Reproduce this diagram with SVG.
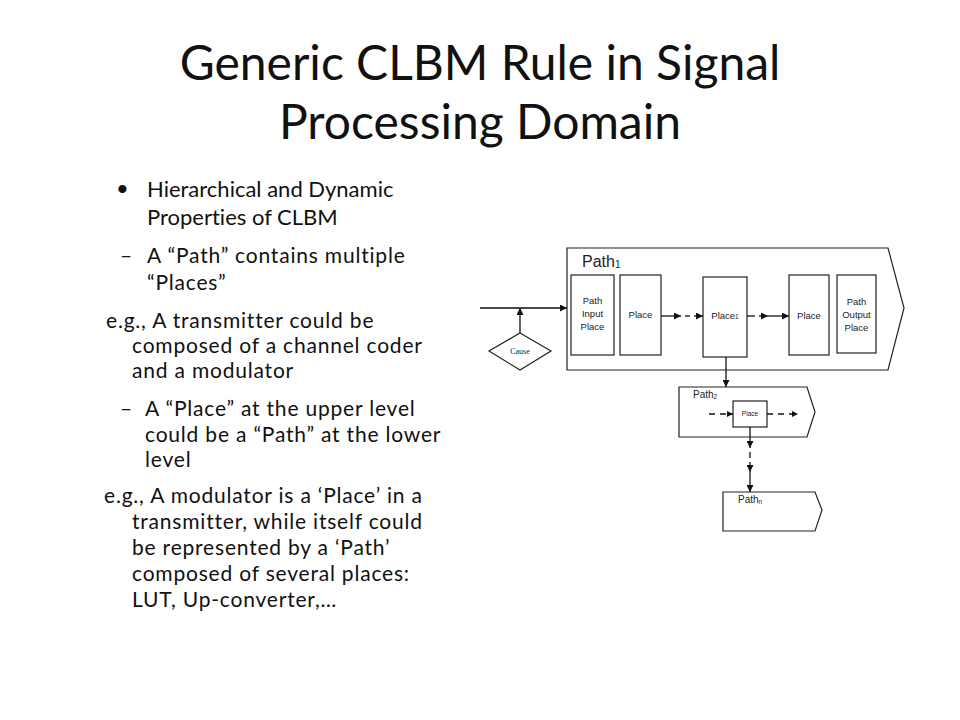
<svg xmlns="http://www.w3.org/2000/svg" width="960" height="720" viewBox="0 0 960 720">
<defs>
<marker id="ah" viewBox="0 0 10 10" refX="10" refY="5" markerWidth="7" markerHeight="7" markerUnits="userSpaceOnUse" orient="auto"><path d="M0,0 L10,5 L0,10 z" fill="#111"/></marker>
<marker id="ahs" viewBox="0 0 10 10" refX="10" refY="5" markerWidth="6" markerHeight="6" markerUnits="userSpaceOnUse" orient="auto"><path d="M0,0 L10,5 L0,10 z" fill="#111"/></marker>
</defs>
<style>
text{font-variant-ligatures:none;font-feature-settings:"liga" 0,"clig" 0}
.title{font-family:Lato,"Liberation Sans",sans-serif;font-size:48px;fill:#111;text-anchor:middle}
.b1{font-family:Lato,"Liberation Sans",sans-serif;font-size:22px;fill:#111}
.b2{font-family:Lato,"Liberation Sans",sans-serif;font-size:21px;fill:#111;letter-spacing:0.8px}
.box{fill:#fff;stroke:#222;stroke-width:1.2}
.lbl{font-family:"Liberation Sans",Arial,sans-serif;fill:#222}
.ln{stroke:#111;stroke-width:1.3;fill:none}
.dash{stroke:#111;stroke-width:1.3;fill:none;stroke-dasharray:6,5}
</style>
<rect width="960" height="720" fill="#fff"/>
<text class="title" x="480" y="80">Generic CLBM Rule in Signal</text>
<text class="title" x="480" y="139">Processing Domain</text>

<g id="bullets">
<text class="b1" x="116" y="196">•</text>
<text class="b1" x="147" y="197">Hierarchical and Dynamic</text>
<text class="b1" x="147" y="225">Properties of CLBM</text>
<text class="b2" x="120" y="263">–</text>
<text class="b2" x="147" y="263">A “Path” contains multiple</text>
<text class="b2" x="147" y="290">“Places”</text>
<text class="b2" x="106" y="328">e.g., A transmitter could be</text>
<text class="b2" x="132" y="353">composed of a channel coder</text>
<text class="b2" x="132" y="378">and a modulator</text>
<text class="b2" x="120" y="416">–</text>
<text class="b2" x="145" y="416">A “Place” at the upper level</text>
<text class="b2" x="145" y="442">could be a “Path” at the lower</text>
<text class="b2" x="145" y="467">level</text>
<text class="b2" x="104" y="503">e.g., A modulator is a ‘Place’ in a</text>
<text class="b2" x="132" y="529">transmitter, while itself could</text>
<text class="b2" x="132" y="555">be represented by a ‘Path’</text>
<text class="b2" x="132" y="581">composed of several places:</text>
<text class="b2" x="132" y="607">LUT, Up-converter,…</text>
</g>

<g id="path1">
<path class="box" d="M567,248 L888,248 L904,308 L888,370 L567,370 Z"/>
<text class="lbl" x="582" y="267" font-size="16">Path<tspan font-size="10" dy="1">1</tspan></text>
</g>
<g id="pathInputPlace">
<rect class="box" x="571" y="275" width="43" height="80"/>
<text class="lbl" font-size="9.5" text-anchor="middle"><tspan x="592.5" y="304">Path</tspan><tspan x="592.5" y="317">Input</tspan><tspan x="592.5" y="330">Place</tspan></text>
</g>
<g id="placeA">
<rect class="box" x="620" y="275" width="41" height="80"/>
<text class="lbl" font-size="9.5" text-anchor="middle" x="640.5" y="318">Place</text>
</g>
<g id="place1">
<rect class="box" x="703" y="277" width="44" height="80"/>
<text class="lbl" font-size="9.5" text-anchor="middle" x="725" y="319">Place<tspan font-size="6.5">1</tspan></text>
</g>
<g id="placeB">
<rect class="box" x="789" y="275" width="40" height="80"/>
<text class="lbl" font-size="9.5" text-anchor="middle" x="809" y="319">Place</text>
</g>
<g id="pathOutputPlace">
<rect class="box" x="837" y="275" width="39" height="78"/>
<text class="lbl" font-size="9.5" text-anchor="middle"><tspan x="856.5" y="305">Path</tspan><tspan x="856.5" y="318">Output</tspan><tspan x="856.5" y="331">Place</tspan></text>
</g>
<g id="cause">
<path class="box" d="M520,333 L551,351 L520,370 L489,351 Z"/>
<text x="520" y="354" font-family="'Liberation Serif',serif" font-size="8" text-anchor="middle" fill="#222">Cause</text>
</g>
<g id="path2">
<path class="box" d="M679,387 L807,387 L815,412 L807,437 L679,437 Z"/>
<text class="lbl" x="693" y="398" font-size="10">Path<tspan font-size="6.5" dy="1">2</tspan></text>
</g>
<g id="place2">
<rect class="box" x="733" y="401" width="34" height="26"/>
<text class="lbl" font-size="6.5" text-anchor="middle" x="750" y="416">Place</text>
</g>
<g id="pathN">
<path class="box" d="M723,492 L815,492 L822,510 L815,531 L723,531 Z"/>
<text class="lbl" x="738" y="503" font-size="10">Path<tspan font-size="6.5" dy="1">n</tspan></text>
</g>

<g id="connectors">
<line class="ln" x1="480" y1="308" x2="567" y2="308" marker-end="url(#ah)"/>
<line class="ln" x1="520" y1="333" x2="520" y2="308" marker-end="url(#ah)"/>
<line class="ln" x1="661" y1="316" x2="681" y2="316" marker-end="url(#ah)"/>
<line class="ln" x1="685" y1="316" x2="690" y2="316"/>
<line class="ln" x1="694" y1="316" x2="703" y2="316" marker-end="url(#ah)"/>
<line class="ln" x1="747" y1="316" x2="755" y2="316"/>
<line class="ln" x1="759" y1="316" x2="768" y2="316" marker-end="url(#ah)"/>
<line class="ln" x1="768" y1="316" x2="789" y2="316" marker-end="url(#ah)"/>
<line class="ln" x1="726" y1="357" x2="726" y2="387" marker-end="url(#ah)"/>
<line class="dash" x1="709" y1="414" x2="733" y2="414" marker-end="url(#ahs)"/>
<line class="dash" x1="767" y1="414" x2="798" y2="414" marker-end="url(#ahs)"/>
<line class="ln" x1="750" y1="427" x2="750" y2="448" marker-end="url(#ah)"/>
<line class="ln" x1="750" y1="452" x2="750" y2="458"/>
<line class="ln" x1="750" y1="462" x2="750" y2="472" marker-end="url(#ah)"/>
<line class="ln" x1="750" y1="472" x2="750" y2="492" marker-end="url(#ah)"/>
</g>
</svg>
